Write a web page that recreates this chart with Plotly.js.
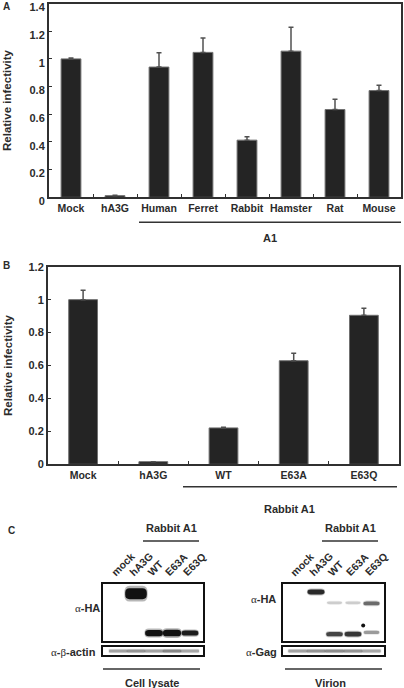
<!DOCTYPE html>
<html><head><meta charset="utf-8">
<script src="https://cdn.plot.ly/plotly-3.0.1.min.js"></script>
<style>html,body{margin:0;padding:0;background:#fff;overflow:hidden}#chart{width:404px;height:688px}</style>
</head><body><div id="chart"></div>
<script>
// ---------- Panel A data ----------
const catsA = ['Mock','hA3G','Human','Ferret','Rabbit','Hamster','Rat','Mouse'];
const valsA = [1.0, 0.012, 0.941, 1.047, 0.413, 1.056, 0.634, 0.771];
const errA  = [0.006, 0.003, 0.104, 0.104, 0.025, 0.172, 0.075, 0.038];
const ticksA = [0, 0.2, 0.4, 0.6, 0.8, 1, 1.2, 1.4];
// ---------- Panel B data ----------
const catsB = ['Mock','hA3G','WT','E63A','E63Q'];
const valsB = [1.0, 0.016, 0.221, 0.629, 0.905];
const errB  = [0.057, 0.0, 0.004, 0.046, 0.042];
const ticksB = [0, 0.2, 0.4, 0.6, 0.8, 1, 1.2];
// ---------- Panel C data (blots) ----------
const laneLabels = ['mock','hA3G','WT','E63A','E63Q'];
// cell lysate, anti-HA: lane index, relative migration (0 bottom .. 1 top), band strength
const lysHALane = [1, 2, 3, 4];
const lysHAPos  = [0.83, 0.14, 0.14, 0.14];
const lysHAStr  = [2.0, 0.9, 1.0, 0.6];
// cell lysate, anti-beta-actin
const lysActLane = [0, 1, 2, 3, 4];
const lysActStr  = [0.16, 0.2, 0.16, 0.24, 0.15];
// virion, anti-HA
const virHALane = [1, 2, 3, 4, 4, 2, 3];
const virHAPos  = [0.86, 0.12, 0.12, 0.15, 0.66, 0.67, 0.67];
const virHAStr  = [0.55, 0.45, 0.5, 0.18, 0.32, 0.05, 0.05];
// virion, anti-Gag
const virGagLane = [0, 1, 2, 3, 4];
const virGagStr  = [0.16, 0.2, 0.22, 0.2, 0.15];
// speck artefact on the virion blot
const speckLane = [3.55];
const speckPos  = [0.27];

// ---------- helpers ----------
const W = 404, H = 688;
const px = v => v / W;
const py = v => 1 - v / H;
const FONT = 'Liberation Sans, Arial, Helvetica, sans-serif';
const TXT = '#2b2b2b';
const BAR = '#242424';

const pill = (x0, x1, y0, y1, rx, ry) =>
  `M${x0 + rx},${y0} L${x1 - rx},${y0} Q${x1},${y0} ${x1},${y0 + ry} L${x1},${y1 - ry} Q${x1},${y1} ${x1 - rx},${y1} ` +
  `L${x0 + rx},${y1} Q${x0},${y1} ${x0},${y1 - ry} L${x0},${y0 + ry} Q${x0},${y0} ${x0 + rx},${y0} Z`;

const bandShapes = (xref, yref, lanes, pos, str, boxPx, full) => {
  const out = [];
  lanes.forEach((l, i) => {
    const s = str[i];
    const hPx = full ? 3.2 : 2.5 + 4.2 * s;
    const w = full ? 1.0 : 0.8 + 0.2 * s;
    const a = Math.min(1, 0.1 + 1.4 * s);
    const h = hPx / boxPx;
    const hw = w / 2 * 1.08, hh = h / 2 * 1.45;
    out.push({type: 'path', xref, yref, layer: 'below', line: {width: 0},
      fillcolor: 'rgba(18,18,18,' + (a * 0.3).toFixed(3) + ')',
      path: pill(l - hw, l + hw, pos[i] - hh, pos[i] + hh, full ? 0.05 : hw * 0.45, hh * 0.9)});
    out.push({type: 'path', xref, yref, layer: 'below', line: {width: 0},
      fillcolor: 'rgba(18,18,18,' + a.toFixed(3) + ')',
      path: pill(l - w / 2, l + w / 2, pos[i] - h / 2, pos[i] + h / 2, full ? 0.05 : w * 0.2, h / 2 * 0.85)});
  });
  return out;
};

const barTrace = (cats, vals, errs, xa, ya, width) => ({
  type: 'bar', x: cats, y: vals, xaxis: xa, yaxis: ya, width: width,
  marker: {color: BAR, line: {color: '#707070', width: 1}},
  error_y: {type: 'data', symmetric: false, array: errs, arrayminus: vals.map(() => 0),
    color: '#505050', thickness: 1.5, width: 2.5},
  hoverinfo: 'skip'
});

const data = [
  barTrace(catsA, valsA, errA, 'x', 'y', 0.45),
  barTrace(catsB, valsB, errB, 'x2', 'y2', 0.41),
  {type: 'scatter', x: speckLane, y: speckPos, xaxis: 'x5', yaxis: 'y5', mode: 'markers',
   marker: {color: '#111', size: 4}, hoverinfo: 'skip'},
  {type: 'scatter', x: [], y: [], xaxis: 'x3', yaxis: 'y3', hoverinfo: 'skip'},
  {type: 'scatter', x: [], y: [], xaxis: 'x4', yaxis: 'y4', hoverinfo: 'skip'},
  {type: 'scatter', x: [], y: [], xaxis: 'x6', yaxis: 'y6', hoverinfo: 'skip'}
];

const frame = {showline: true, mirror: true, linecolor: '#303030', linewidth: 2,
  showgrid: false, zeroline: false, fixedrange: true};
const catAxis = (domain, anchor) => Object.assign({}, frame, {
  domain, anchor, type: 'category', tickson: 'boundaries', ticks: 'inside', ticklen: 3,
  tickangle: 0, tickcolor: '#303030', tickwidth: 1,
  tickfont: {family: FONT, size: 10.5, color: TXT, weight: 'bold'}
});
const valAxis = (domain, anchor, range, tv, shift) => Object.assign({}, frame, {
  domain, anchor, range, tickvals: tv, ticktext: tv.map(String), ticks: 'inside', ticklen: 3,
  ticklabeloverflow: 'allow', ticklabelshift: shift,
  tickcolor: '#303030', tickwidth: 1, tickfont: {family: FONT, size: 11, color: TXT, weight: 'bold'}
});
const blotAxis = (domain, anchor, range) => ({domain, anchor, range, showline: true, mirror: true,
  linecolor: '#111', linewidth: 2, showgrid: false, zeroline: false, showticklabels: false,
  ticks: '', fixedrange: true});

const boxHA = [584, 641], boxLoad = [647, 655];
const lysX = [103, 203], virX = [283, 384];
const lysRange = [-(118 - 103) / 18, (203 - 118) / 18];
const virRange = [-(297.5 - 283) / 18.5, (384 - 297.5) / 18.5];

const ann = (text, x, y, o) => Object.assign({text, x: px(x), y: py(y), xref: 'paper', yref: 'paper',
  xanchor: 'center', yanchor: 'middle', showarrow: false,
  font: {family: FONT, size: 11, color: TXT, weight: 'bold'}}, o || {});
const greek = s => '<span style="font-family:\'Liberation Serif\',serif;font-weight:normal">' + s + '</span>';
const letterFont = {family: FONT, size: 10, color: TXT, weight: 'bold'};
const ytFont = {family: FONT, size: 11.5, color: TXT, weight: 'bold'};

const annotations = [
  ann('A', 6, 6.5, {font: letterFont}),
  ann('B', 6, 265.5, {font: letterFont}),
  ann('C', 11.5, 530, {font: letterFont}),
  ann('Relative infectivity', 7.5, 100.5, {textangle: -90, font: ytFont}),
  ann('Relative infectivity', 7.5, 365.5, {textangle: -90, font: ytFont}),
  ann('A1', 270, 238),
  ann('Rabbit A1', 289, 508.5),
  ann('Rabbit A1', 171, 528),
  ann('Rabbit A1', 350, 528),
  ann(greek('α') + '-HA', 102, 608, {xanchor: 'right'}),
  ann(greek('α') + '-' + greek('β') + '-actin', 97.5, 652, {xanchor: 'right'}),
  ann(greek('α') + '-HA', 278, 598.5, {xanchor: 'right'}),
  ann(greek('α') + '-Gag', 278.5, 652, {xanchor: 'right'}),
  ann('Cell lysate', 151.5, 682.5),
  ann('Virion', 330, 682.5)
];
laneLabels.forEach((t, i) => {
  ['x3', 'x5'].forEach(xr => {
    annotations.push({text: t, x: i, xref: xr, y: py(581), yref: 'paper', showarrow: false,
      textangle: -45, xanchor: 'left', yanchor: 'bottom', xshift: -12,
      font: {family: FONT, size: 10.5, color: TXT, weight: 'bold'}});
  });
});

const hline = (x0, x1, y) => ({type: 'line', xref: 'paper', yref: 'paper', x0: px(x0), x1: px(x1),
  y0: py(y), y1: py(y), line: {color: '#333', width: 1.6}});

const shapes = [
  hline(139, 401, 222.3),
  hline(183, 397, 486.7),
  hline(143, 199, 541),
  hline(322, 378, 541),
  hline(103, 200, 669),
  hline(285, 382, 669)
].concat(
  bandShapes('x3', 'y3', lysHALane, lysHAPos, lysHAStr, boxHA[1] - boxHA[0], false),
  bandShapes('x4', 'y4', lysActLane, lysActLane.map(() => 0.5), lysActStr, boxLoad[1] - boxLoad[0], true),
  bandShapes('x5', 'y5', virHALane, virHAPos, virHAStr, boxHA[1] - boxHA[0], false),
  bandShapes('x6', 'y6', virGagLane, virGagLane.map(() => 0.5), virGagStr, boxLoad[1] - boxLoad[0], true)
);

const layout = {
  width: W, height: H, margin: {l: 0, r: 0, t: 0, b: 0},
  paper_bgcolor: '#fff', plot_bgcolor: '#fff', showlegend: false,
  font: {family: FONT, color: TXT},
  xaxis: catAxis([px(49), px(401)], 'y'),
  yaxis: valAxis([py(197.3), py(3.5)], 'x', [0, 1.4001], ticksA, 4),
  xaxis2: catAxis([px(48), px(399)], 'y2'),
  yaxis2: valAxis([py(464.3), py(266.7)], 'x2', [0, 1.2001], ticksB, 0),
  xaxis3: blotAxis([px(lysX[0]), px(lysX[1])], 'y3', lysRange),
  yaxis3: blotAxis([py(boxHA[1]), py(boxHA[0])], 'x3', [0, 1]),
  xaxis4: blotAxis([px(lysX[0]), px(lysX[1])], 'y4', lysRange),
  yaxis4: blotAxis([py(boxLoad[1]), py(boxLoad[0])], 'x4', [0, 1]),
  xaxis5: blotAxis([px(virX[0]), px(virX[1])], 'y5', virRange),
  yaxis5: blotAxis([py(boxHA[1]), py(boxHA[0])], 'x5', [0, 1]),
  xaxis6: blotAxis([px(virX[0]), px(virX[1])], 'y6', virRange),
  yaxis6: blotAxis([py(boxLoad[1]), py(boxLoad[0])], 'x6', [0, 1]),
  annotations, shapes
};

Plotly.newPlot('chart', data, layout, {staticPlot: true, displayModeBar: false});
</script></body></html>
